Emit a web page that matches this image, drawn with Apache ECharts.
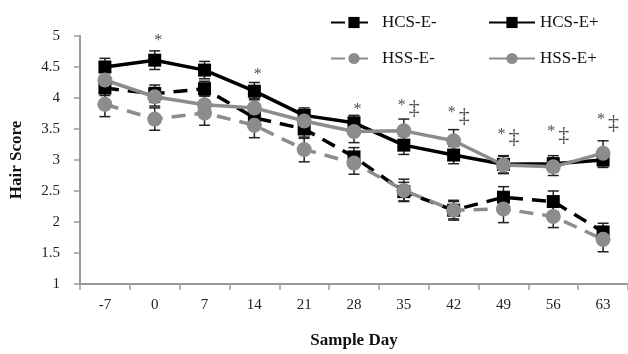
<!DOCTYPE html>
<html>
<head>
<meta charset="utf-8">
<script src="https://cdn.jsdelivr.net/npm/echarts@6/dist/echarts.min.js"></script>
<style>
    html, body { margin: 0; padding: 0; background: #fff; }
    #chart { width: 628px; height: 354px; }
</style>
</head>
<body>
<div id="chart"></div>
<script>
// sample days
const days = ['-7', '0', '7', '14', '21', '28', '35', '42', '49', '56', '63'];

// mean hair score per group
const hcsEminus = [4.16, 4.07, 4.15, 3.68, 3.50, 3.05, 2.49, 2.19, 2.40, 2.33, 1.84];
const hcsEplus  = [4.50, 4.61, 4.45, 4.11, 3.72, 3.60, 3.24, 3.08, 2.93, 2.94, 3.00];
const hssEminus = [3.90, 3.66, 3.76, 3.56, 3.17, 2.95, 2.51, 2.19, 2.21, 2.09, 1.72];
const hssEplus  = [4.29, 4.02, 3.89, 3.84, 3.63, 3.46, 3.47, 3.31, 2.92, 2.89, 3.11];

// standard errors
const hcsEminusErr = [0.12, 0.14, 0.12, 0.14, 0.15, 0.15, 0.15, 0.16, 0.17, 0.17, 0.14];
const hcsEplusErr  = [0.14, 0.15, 0.14, 0.14, 0.12, 0.12, 0.15, 0.14, 0.14, 0.13, 0.12];
const hssEminusErr = [0.20, 0.18, 0.20, 0.20, 0.20, 0.18, 0.18, 0.14, 0.22, 0.18, 0.20];
const hssEplusErr  = [0.15, 0.15, 0.15, 0.15, 0.15, 0.18, 0.19, 0.18, 0.14, 0.14, 0.20];

// significance marks and the score level they sit at
const sigStar  = [false, true, false, true, false, true, true, true, true, true, true];
const sigDdag  = [false, false, false, false, false, false, true, true, true, true, true];
const sigLevel = [null, 4.92, null, 4.37, null, 3.81, 3.83, 3.71, 3.36, 3.40, 3.60];

const BLACK = '#000';
const GRAY = '#8c8c8c';
const FONT = '"Liberation Serif", "DejaVu Serif", serif';

function errData(vals, errs) {
    return vals.map((v, i) => [i, v - errs[i], v + errs[i]]);
}

function errSeries(name, vals, errs) {
    return {
        name: name + ' err',
        type: 'custom',
        z: 1,
        silent: true,
        data: errData(vals, errs),
        renderItem: (params, api) => {
            const lo = api.coord([api.value(0), api.value(1)]);
            const hi = api.coord([api.value(0), api.value(2)]);
            const w = 5.5;
            const style = { stroke: '#222', lineWidth: 1.5 };
            return {
                type: 'group',
                children: [
                    { type: 'line', shape: { x1: lo[0], y1: lo[1], x2: hi[0], y2: hi[1] }, style },
                    { type: 'line', shape: { x1: lo[0] - w, y1: lo[1], x2: lo[0] + w, y2: lo[1] }, style },
                    { type: 'line', shape: { x1: hi[0] - w, y1: hi[1], x2: hi[0] + w, y2: hi[1] }, style }
                ]
            };
        }
    };
}

function lineSeries(name, vals, color, dashed, symbol) {
    return {
        name: name,
        type: 'line',
        z: 3,
        data: vals,
        symbol: symbol,
        symbolSize: symbol === 'rect' ? 13 : 15,
        itemStyle: { color: color },
        lineStyle: { color: color, width: 3.5, type: dashed ? [14, 9] : 'solid' },
        emphasis: { disabled: true }
    };
}

function legendAt(name, left, top) {
    return {
        data: [name],
        left: left,
        top: top,
        itemWidth: 46,
        itemHeight: 14,
        textStyle: { fontFamily: FONT, fontSize: 17, color: '#111' },
        selectedMode: false
    };
}

let chart = echarts.init(document.getElementById('chart'), null, { renderer: 'canvas' });

chart.setOption({
    animation: false,
    backgroundColor: '#fff',
    legend: [
        legendAt('HCS-E-', 325, 9),
        legendAt('HCS-E+', 483, 9),
        legendAt('HSS-E-', 325, 45),
        legendAt('HSS-E+', 483, 45)
    ],
    grid: { left: 72, right: 0, top: 36, bottom: 63 },
    xAxis: {
        type: 'category',
        data: days,
        boundaryGap: true,
        name: 'Sample Day',
        nameLocation: 'middle',
        nameGap: 48,
        nameTextStyle: { fontFamily: FONT, fontSize: 17, fontWeight: 'bold', color: '#111' },
        axisLine: { lineStyle: { color: '#9a9a9a', width: 2 } },
        axisTick: { show: true, length: 6, alignWithLabel: false, lineStyle: { color: '#9a9a9a', width: 1.5 } },
        axisLabel: { fontFamily: FONT, fontSize: 15, color: '#222', margin: 14 }
    },
    yAxis: {
        type: 'value',
        min: 1,
        max: 5,
        interval: 0.5,
        name: 'Hair Score',
        nameLocation: 'middle',
        nameGap: 55,
        nameTextStyle: { fontFamily: FONT, fontSize: 17, fontWeight: 'bold', color: '#111' },
        splitLine: { show: false },
        axisLine: { show: true, lineStyle: { color: '#9a9a9a', width: 2 } },
        axisTick: { show: true, length: 6, lineStyle: { color: '#9a9a9a', width: 1.5 } },
        axisLabel: { fontFamily: FONT, fontSize: 15, color: '#222', margin: 20 }
    },
    series: [
        errSeries('HCS-E-', hcsEminus, hcsEminusErr),
        errSeries('HCS-E+', hcsEplus, hcsEplusErr),
        errSeries('HSS-E-', hssEminus, hssEminusErr),
        errSeries('HSS-E+', hssEplus, hssEplusErr),
        lineSeries('HCS-E-', hcsEminus, BLACK, true, 'rect'),
        lineSeries('HCS-E+', hcsEplus, BLACK, false, 'rect'),
        lineSeries('HSS-E-', hssEminus, GRAY, true, 'circle'),
        lineSeries('HSS-E+', hssEplus, GRAY, false, 'circle'),
        {
            name: 'sig',
            type: 'scatter',
            z: 4,
            silent: true,
            symbolSize: 1,
            itemStyle: { color: 'rgba(0,0,0,0)' },
            data: sigLevel.map((v, i) => v === null ? null : [i, v]).filter(d => d !== null),
            label: {
                show: true,
                position: 'inside',
                offset: [5, 0],
                formatter: p => {
                    const i = p.data[0];
                    return (sigStar[i] ? '{s|*}' : '') + (sigDdag[i] ? '{d|‡}' : '');
                },
                rich: {
                    s: { fontFamily: FONT, fontSize: 16, color: '#222', verticalAlign: 'top', padding: [0, 3, 0, 0] },
                    d: { fontFamily: FONT, fontSize: 22, color: '#222' }
                }
            }
        }
    ]
});
</script>
</body>
</html>
